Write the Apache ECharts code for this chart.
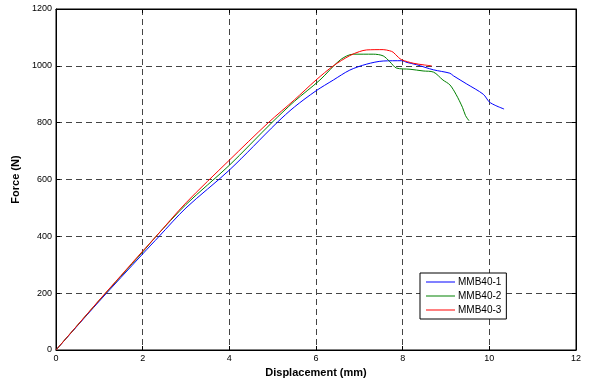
<!DOCTYPE html>
<html>
<head>
<meta charset="utf-8">
<script src="https://cdn.jsdelivr.net/npm/echarts@6/dist/echarts.min.js"></script>
<style>
  html, body { margin: 0; padding: 0; background: #fff; }
  #chart { width: 590px; height: 388px; }
</style>
</head>
<body>
<div id="chart"></div>
<script>
// displacement (mm), force (N) pairs
const mmb40_1 = [
  [0, 0], [1, 172], [2, 338], [2.38, 400], [3, 500], [4, 633], [5.1, 800],
  [5.5, 855], [6.0, 912], [6.4, 950], [6.78, 985], [7.17, 1006], [7.55, 1017],
  [7.98, 1018], [8.1, 1012], [8.32, 1004], [8.71, 986], [9.09, 974], [9.17, 965],
  [9.48, 936], [9.86, 900], [10.0, 873], [10.15, 860], [10.34, 848]
]
const mmb40_2 = [
  [0, 0], [1, 175], [2, 345], [2.31, 400], [3, 512], [4, 650], [4.98, 800],
  [5.5, 875], [6.09, 950], [6.56, 1021], [6.86, 1041], [7.32, 1041], [7.55, 1035],
  [7.7, 1015], [7.86, 992], [8.17, 988], [8.47, 982], [8.71, 978], [8.93, 950],
  [9.09, 933], [9.23, 900], [9.38, 854], [9.45, 825], [9.53, 807]
]
const mmb40_3 = [
  [0, 0], [0.5, 88], [1, 176], [1.5, 262], [2, 348], [2.31, 400], [3, 518],
  [4, 668], [4.9, 800], [5.5, 880], [6, 950], [6.4, 1000], [6.78, 1036],
  [7.0, 1050], [7.17, 1056], [7.55, 1057], [7.7, 1053], [7.78, 1048], [7.9, 1030],
  [7.98, 1021], [8.25, 1009], [8.5, 1003], [8.67, 1000]
]
const seriesNames = ['MMB40-1', 'MMB40-2', 'MMB40-3']
const seriesColors = ['#0000ff', '#008000', '#ff0000']

const font = 'Arial, "Liberation Sans", sans-serif'
const dashed = { show: true, lineStyle: { color: '#444', type: [6, 4], width: 1 } }

const chart = echarts.init(document.getElementById('chart'))

const axisBase = {
  type: 'value',
  axisLine: { show: true, onZero: false, lineStyle: { color: '#000', width: 1 } },
  axisTick: { show: true, inside: true, length: 4, lineStyle: { color: '#000' } }
}

const option = {
  animation: false,
  backgroundColor: '#fff',
  grid: { left: 56, right: 14, top: 9, bottom: 38, show: true, borderColor: '#000', borderWidth: 1 },
  xAxis: [
    {
      ...axisBase,
      min: 0, max: 12, interval: 2,
      name: 'Displacement (mm)',
      nameLocation: 'middle',
      nameGap: 17,
      nameTextStyle: { fontFamily: font, fontSize: 11, fontWeight: 'bold', color: '#000' },
      axisLabel: { margin: 4, fontFamily: font, fontSize: 9, color: '#000', formatter: v => String(v) },
      splitLine: dashed
    },
    {
      ...axisBase,
      position: 'top',
      min: 0, max: 12, interval: 2,
      axisLabel: { show: false },
      splitLine: { show: false }
    }
  ],
  yAxis: [
    {
      ...axisBase,
      min: 0, max: 1200, interval: 200,
      name: 'Force (N)',
      nameLocation: 'middle',
      nameGap: 25,
      nameTextStyle: { fontFamily: font, fontSize: 11, fontWeight: 'bold', color: '#000' },
      axisLabel: { margin: 4, fontFamily: font, fontSize: 9, color: '#000', formatter: v => String(v) },
      splitLine: dashed
    },
    {
      ...axisBase,
      position: 'right',
      min: 0, max: 1200, interval: 200,
      axisLabel: { show: false },
      splitLine: { show: false }
    }
  ],
  legend: {
    orient: 'vertical',
    left: 420,
    top: 273,
    data: seriesNames,
    icon: 'rect',
    itemWidth: 29,
    itemHeight: 1,
    itemGap: 4,
    padding: [4, 5, 4, 6],
    backgroundColor: '#fff',
    borderColor: '#000',
    borderWidth: 1,
    borderRadius: 0,
    textStyle: { fontFamily: font, fontSize: 10, color: '#000', padding: [0, 0, 0, -2] }
  },
  series: [mmb40_1, mmb40_2, mmb40_3].map((d, i) => ({
    name: seriesNames[i],
    type: 'line',
    data: d,
    symbol: 'none',
    smooth: 0.3,
    lineStyle: { color: seriesColors[i], width: 1 },
    itemStyle: { color: seriesColors[i] }
  }))
}

chart.setOption(option)
</script>
</body>
</html>
